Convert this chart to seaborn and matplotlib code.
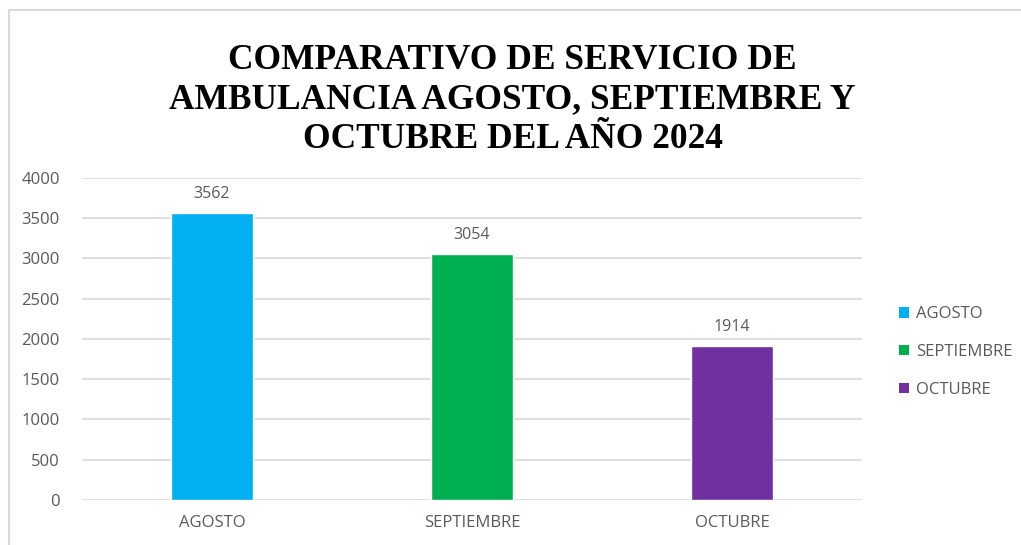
import pandas as pd; import numpy as np; import matplotlib.pyplot as plt; import seaborn as sns
from matplotlib.lines import Line2D
from matplotlib.patches import Patch

meses = ['AGOSTO', 'SEPTIEMBRE', 'OCTUBRE']
servicios = [3562, 3054, 1914]
colores = ['#00B0F0', '#00B050', '#7030A0']
titulo = 'COMPARATIVO DE SERVICIO DE\nAMBULANCIA AGOSTO, SEPTIEMBRE Y\nOCTUBRE DEL AÑO 2024'

df = pd.DataFrame({'mes': meses, 'servicios': servicios})

sns.set_theme(style='white')
plt.rcParams['font.family'] = ['Open Sans', 'DejaVu Sans']
gris = '#595959'

fig = plt.figure(figsize=(10.21, 5.45), dpi=100)
ax = fig.add_axes([0.0803, 0.0826, 0.7640, 0.5908])

sns.barplot(ax=ax, data=df, x='mes', y='servicios', hue='mes', palette=colores,
            width=0.315, legend=False, saturation=1)
for c in ax.containers:
    ax.bar_label(c, padding=8, fontsize=11.5, color=gris)

ax.set_ylim(0, 4000)
ax.set_xlim(-0.5, 2.5)
ax.set_yticks(range(0, 4001, 500))
ax.yaxis.grid(True, color='#D9D9D9', linewidth=1.2)
ax.set_axisbelow(True)
sns.despine(ax=ax, left=True, bottom=True)
ax.tick_params(axis='both', length=0, labelsize=12, labelcolor=gris)
ax.tick_params(axis='y', pad=16)
ax.tick_params(axis='x', pad=11)
ax.set_xlabel(''); ax.set_ylabel('')

handles = [Patch(facecolor=c, edgecolor='none') for c in colores]
fig.legend(handles, meses, loc='center left', bbox_to_anchor=(0.866, 0.354),
           frameon=False, fontsize=12, labelcolor=gris, handlelength=0.6,
           handleheight=0.6, handletextpad=0.4, labelspacing=1.3)

fig.text(0.502, 0.8165, titulo, ha='center', va='center', fontsize=25.5,
         fontweight='bold', family='Liberation Serif', linespacing=1.27, color='black')

fig.add_artist(Line2D([9 / 1021, 1], [1 - 10 / 545] * 2, color='#D9D9D9', linewidth=1.5))
fig.add_artist(Line2D([9 / 1021] * 2, [0, 1 - 10 / 545], color='#D9D9D9', linewidth=1.5))

plt.savefig('out.png', dpi=100)
